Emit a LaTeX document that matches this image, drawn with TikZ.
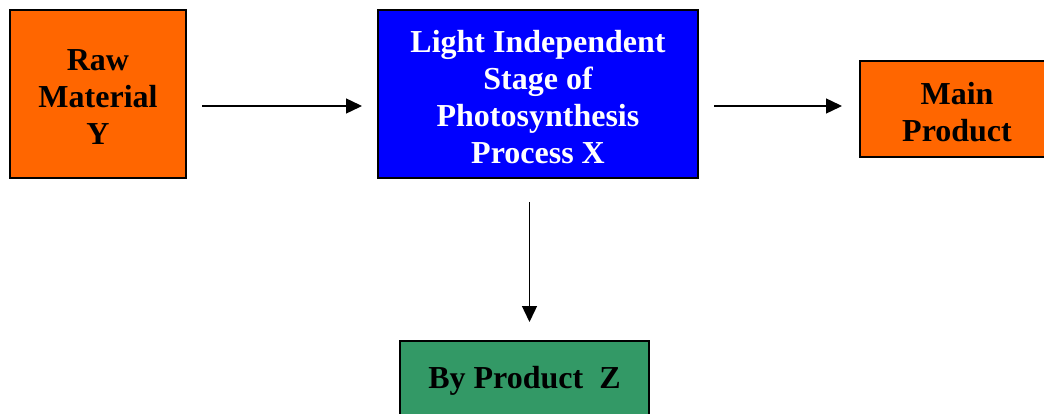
\documentclass[tikz,border=0pt]{standalone}
\usepackage{fontspec}
\setmainfont{Liberation Serif}
\usetikzlibrary{arrows.meta}
\definecolor{boxorange}{HTML}{FF6600}
\definecolor{boxblue}{HTML}{0000FF}
\definecolor{boxgreen}{HTML}{339966}
\begin{document}
\begin{tikzpicture}[x=1pt,y=-1pt,
  stage/.style={draw=black,line width=1.6pt,inner sep=0pt},
  caption/.style={align=center,inner sep=0pt,yshift=-3pt,
    font=\fontsize{32}{37}\selectfont\bfseries},
  flow/.style={line width=1.4pt,-{Triangle[length=16pt,width=15pt]}}]
\clip (0,0) rectangle (1044,414);
\fill[white] (0,0) rectangle (1044,414);
% input
\node[stage,fill=boxorange,minimum width=176pt,minimum height=168pt,
  label={[caption]center:Raw\\Material\\Y}] (raw) at (98,94) {};
% process
\node[stage,fill=boxblue,minimum width=320pt,minimum height=168pt,
  label={[caption,text=white]center:Light Independent\\Stage of\\Photosynthesis\\Process X}]
  (proc) at (538,94) {};
% main output
\node[stage,fill=boxorange,minimum width=194pt,minimum height=96pt,
  label={[caption]center:Main\\Product}] (main) at (957,109) {};
% side output
\node[stage,fill=boxgreen,minimum width=249pt,minimum height=74pt,
  label={[caption]center:By Product\ \ Z}] (by) at (524.5,378) {};
% connectors
\coordinate (a1) at (202,106);
\coordinate (a2) at (362,106);
\coordinate (b1) at (714,106);
\coordinate (b2) at (842,106);
\coordinate (c1) at (529.5,202);
\coordinate (c2) at (529.5,322);
\draw[flow] (a1) -- (a2);
\draw[flow] (b1) -- (b2);
\draw[flow] (c1) -- (c2);
\end{tikzpicture}
\end{document}
